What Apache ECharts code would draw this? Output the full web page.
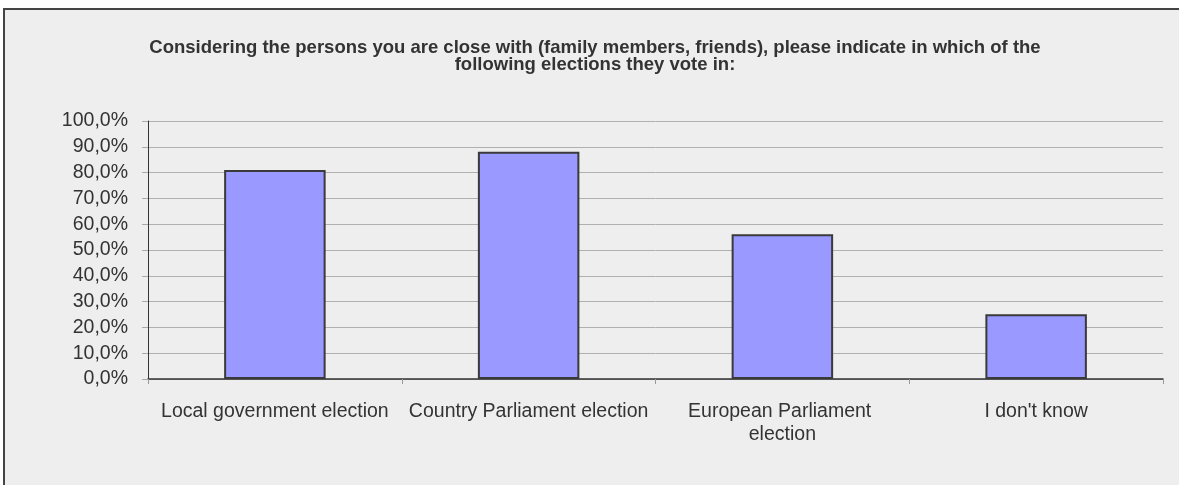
<!DOCTYPE html>
<html><head><meta charset="utf-8">
<script src="https://cdn.jsdelivr.net/npm/echarts@6/dist/echarts.min.js"></script>
<style>
html,body{margin:0;padding:0;background:#fff;width:1179px;height:485px;overflow:hidden;position:relative;}
#frame{position:absolute;left:3px;top:8px;width:1176px;height:477px;border-left:2px solid #444;border-top:2px solid #444;background:#eeeeee;box-sizing:border-box;}
#chart{position:absolute;left:0;top:0;width:1179px;height:485px;}
</style></head>
<body>
<div id="frame"></div>
<div id="chart"></div>
<script>
const titleText = "Considering the persons you are close with (family members, friends), please indicate in which of the\nfollowing elections they vote in:";
const categories = ["Local government election", "Country Parliament election", "European Parliament election", "I don't know"];
const values = [81.0, 88.1, 56.1, 25.1];
const yTicks = [0, 10, 20, 30, 40, 50, 60, 70, 80, 90, 100];

const chart = echarts.init(document.getElementById('chart'), null, {renderer: 'canvas'});
chart.setOption({
  backgroundColor: 'transparent',
  animation: false,
  title: {
    text: titleText,
    left: 590, top: 34, textAlign: 'center',
    textStyle: {fontFamily: '"Liberation Sans", Arial, sans-serif', fontSize: 18.5, fontWeight: 'bold', color: '#333', lineHeight: 17}
  },
  grid: {left: 148, right: 16, top: 121, bottom: 106, containLabel: false},
  xAxis: {
    type: 'category', data: categories, boundaryGap: true,
    axisLine: {lineStyle: {color: '#333', width: 1.5}},
    axisTick: {show: true, alignWithLabel: false, length: 5, lineStyle: {color: '#999'}},
    axisLabel: {interval: 0, margin: 21, width: 250, overflow: 'break', fontFamily: '"Liberation Sans", Arial, sans-serif', fontSize: 19.5, color: '#333', lineHeight: 23}
  },
  yAxis: {
    type: 'value', min: yTicks[0], max: yTicks[yTicks.length-1], interval: 10,
    axisLine: {show: true, lineStyle: {color: '#333', width: 1}},
    axisTick: {show: true, length: 6, lineStyle: {color: '#aaa'}},
    splitLine: {lineStyle: {color: '#b0b0b0', width: 1}},
    axisLabel: {margin: 20, fontFamily: '"Liberation Sans", Arial, sans-serif', fontSize: 19.5, color: '#333',
      formatter: v => v.toFixed(1).replace('.', ',') + '%'}
  },
  series: [{
    type: 'bar', data: values, barWidth: '40%',
    itemStyle: {color: '#9999ff', borderColor: '#3a3a3a', borderWidth: 2}
  }]
});
</script>
</body></html>
